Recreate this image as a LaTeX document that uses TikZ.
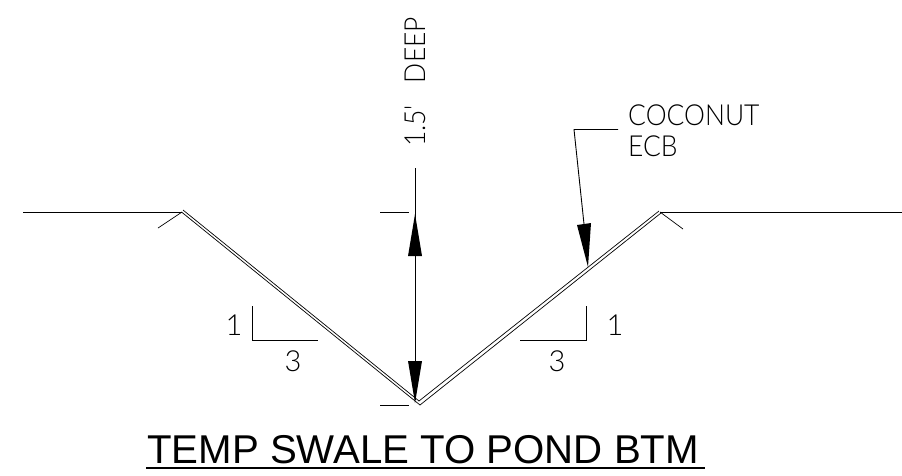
\documentclass[tikz,border=0pt]{standalone}
\usepackage{fontspec}
\setmainfont{Liberation Sans}
\newfontfamily\cadfont{Lato Light}
\newcommand\cadtext[1]{\scalebox{.91}[1]{#1}}
\tikzset{
  ln/.style={draw=black,line width=0.9pt},
  thin line/.style={draw=black,line width=0.7pt},
  head/.style={fill=black,draw=none},
  cad/.style={inner sep=0pt,font=\cadfont\fontsize{29}{29}\selectfont},
  ttl/.style={inner sep=0pt,anchor=base west,font=\fontsize{40.2}{40}\selectfont}
}
\begin{document}
\begin{tikzpicture}[x=1pt,y=-1pt]
\useasboundingbox (0,0) rectangle (902,475);
\coordinate (g1) at (23,212);
\coordinate (g2) at (182,212);
\coordinate (g3) at (660,212);
\coordinate (g4) at (902,212);
\draw[ln] (g1) -- (g2);
\draw[ln] (g3) -- (g4);
\draw[thin line] (158,228) -- (g2);
\draw[thin line] (660,212) -- (683,229);
\draw[thin line,line join=miter] (183,210) -- (419,401) -- (659,211);
\draw[thin line,line join=miter] (181.5,212) -- (420,405) -- (661,213);
% dimension
\coordinate (dt) at (415,168);
\coordinate (db) at (415,400);
\draw[ln] (dt) -- (db);
\fill[head] (415,214) -- (422,256) -- (408,256) -- cycle;
\fill[head] (415,403) -- (422,361) -- (408,361) -- cycle;
\draw[ln] (380,212) -- (409,212);
\draw[ln] (380,405) -- (409,405);
\node[cad,rotate=90,anchor=base west] (dim) at (425,147) {\cadtext{1.5'\hspace{24pt}DEEP}};
% leader
\coordinate (l1) at (618,129.5);
\coordinate (l2) at (574,129.5);
\coordinate (l3) at (584,224);
\draw[ln] (l1) -- (l2) -- (l3);
\fill[head] (588,267) -- (591,223) -- (577,225) -- cycle;
\node[cad,anchor=base west] (coco) at (628,125) {\cadtext{COCONUT}};
\node[cad,anchor=base west] (ecb) at (628,156) {\cadtext{ECB}};
% slopes
\draw[ln] (252,306) -- (252,340) -- (318,340);
\draw[ln] (520,340) -- (586,340) -- (586,306);
\node[cad,anchor=base] (a1) at (234,335) {1};
\node[cad,anchor=base] (a3) at (293,371) {3};
\node[cad,anchor=base] (b1) at (615,335) {1};
\node[cad,anchor=base] (b3) at (557,371) {3};
% title
\node[ttl] (title) at (147,463) {TEMP SWALE TO POND BTM};
\draw[line width=1.2pt] (146,468) -- (705,468);
\end{tikzpicture}
\end{document}
